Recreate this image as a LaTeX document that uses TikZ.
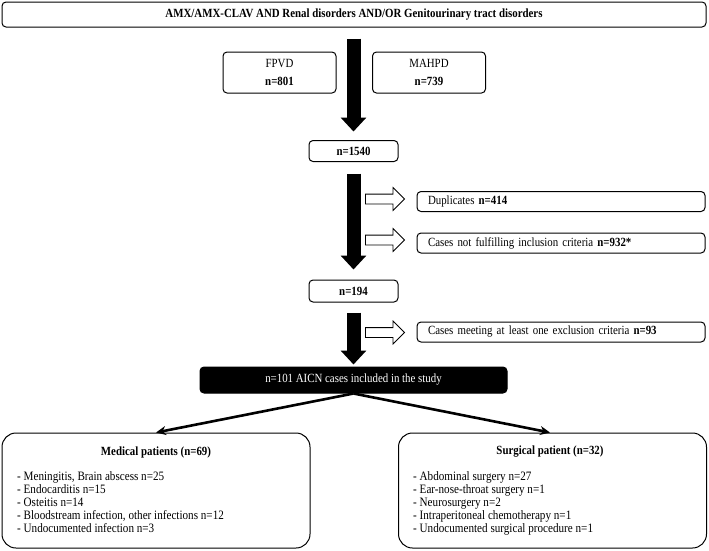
\documentclass[tikz,border=0pt]{standalone}
\usepackage{fontspec}
\setmainfont{Liberation Serif}[FakeStretch=0.87]
\usetikzlibrary{arrows.meta,shapes.arrows}

\begin{document}
\begin{tikzpicture}[x=1pt,y=-1pt,
        box/.style={draw,line width=1pt,rounded corners=4pt,inner sep=0pt,font=\fontsize{12.5}{18}\selectfont},
        sidebox/.style={box,minimum width=288pt,minimum height=20pt,text width=266pt,align=left},
        bigarrow/.style={line width=14pt,-{Triangle[length=14pt,width=25pt]}},
        outarrow/.style={single arrow,draw,line width=0.8pt,fill=white,inner sep=4.5pt,minimum height=39pt,single arrow head extend=6.5pt},
        split/.style={line width=2.6pt,-{Stealth[length=10pt,width=9pt]}},
        bigbox/.style={draw,line width=1pt,rounded corners=14pt,minimum width=308pt,minimum height=115pt},
        listtext/.style={inner sep=0pt,align=left,anchor=north west,font=\fontsize{12.8}{13.1}\selectfont}]
    \useasboundingbox (0,0) rectangle (709,550);
        \node[box,minimum width=704pt,minimum height=25pt,font=\fontsize{12.5}{15}\selectfont\bfseries] (search) at (354,14.5) {AMX/AMX-CLAV AND Renal disorders AND/OR Genitourinary tract disorders};
        \node[box,minimum width=113pt,minimum height=41pt,align=center] (fpvd) at (279.5,72.5) {FPVD\\\textbf{n=801}};
        \node[box,minimum width=113pt,minimum height=41pt,align=center] (mahpd) at (429,72.5) {MAHPD\\\textbf{n=739}};
        \node[box,minimum width=89pt,minimum height=21pt,font=\fontsize{12.5}{15}\selectfont\bfseries] (n1540) at (353.5,151) {n=1540};
        \node[box,minimum width=89pt,minimum height=22pt,font=\fontsize{12.5}{15}\selectfont\bfseries] (n194) at (353.5,291) {n=194};
        \node[sidebox] (dup) at (561,201.5) {Duplicates \textbf{n=414}};
        \node[sidebox] (notinc) at (561,243) {Cases not fulfilling inclusion criteria \textbf{n=932*}};
        \node[sidebox] (excl) at (561,332) {Cases meeting at least one exclusion criteria \textbf{n=93}};
        \node[box,fill=black,text=white,minimum width=307pt,minimum height=26pt] (aicn) at (353.5,380) {n=101 AICN cases included in the study};
        \node[bigbox] (med) at (156,490.5) {};
        \node[bigbox] (surg) at (552.5,490.5) {};

        \draw[bigarrow,shorten <=11pt,shorten >=8.5pt] (search.south -| n1540) -- (n1540.north);
        \draw[bigarrow,shorten <=11.5pt,shorten >=10pt] (n1540.south) -- (n194.north);
        \draw[bigarrow,shorten <=10pt,shorten >=2pt] (n194.south) -- (aicn.north);
        \node[outarrow] (toDup) at (382.5,199) {};
        \node[outarrow] (toNotinc) at (382.5,240) {};
        \node[outarrow] (toExcl) at (382.5,332.5) {};
        \draw[split] (aicn.south) -- (med.north);
        \draw[split] (aicn.south) -- ([xshift=-2.5pt]surg.north);

        \node[font=\fontsize{12.5}{15}\selectfont\bfseries] (medtitle) at (156,452) {Medical patients (n=69)};
        \node[listtext] (medlist) at (17,471) {- Meningitis, Brain abscess n=25\\- Endocarditis n=15\\- Osteitis n=14\\- Bloodstream infection, other infections n=12\\- Undocumented infection n=3};
        \node[font=\fontsize{12.5}{15}\selectfont\bfseries] (surgtitle) at (550,452) {Surgical patient (n=32)};
        \node[listtext] (surglist) at (413,471) {- Abdominal surgery n=27\\- Ear-nose-throat surgery n=1\\- Neurosurgery n=2\\- Intraperitoneal chemotherapy n=1\\- Undocumented surgical procedure n=1};
\end{tikzpicture}
\end{document}
